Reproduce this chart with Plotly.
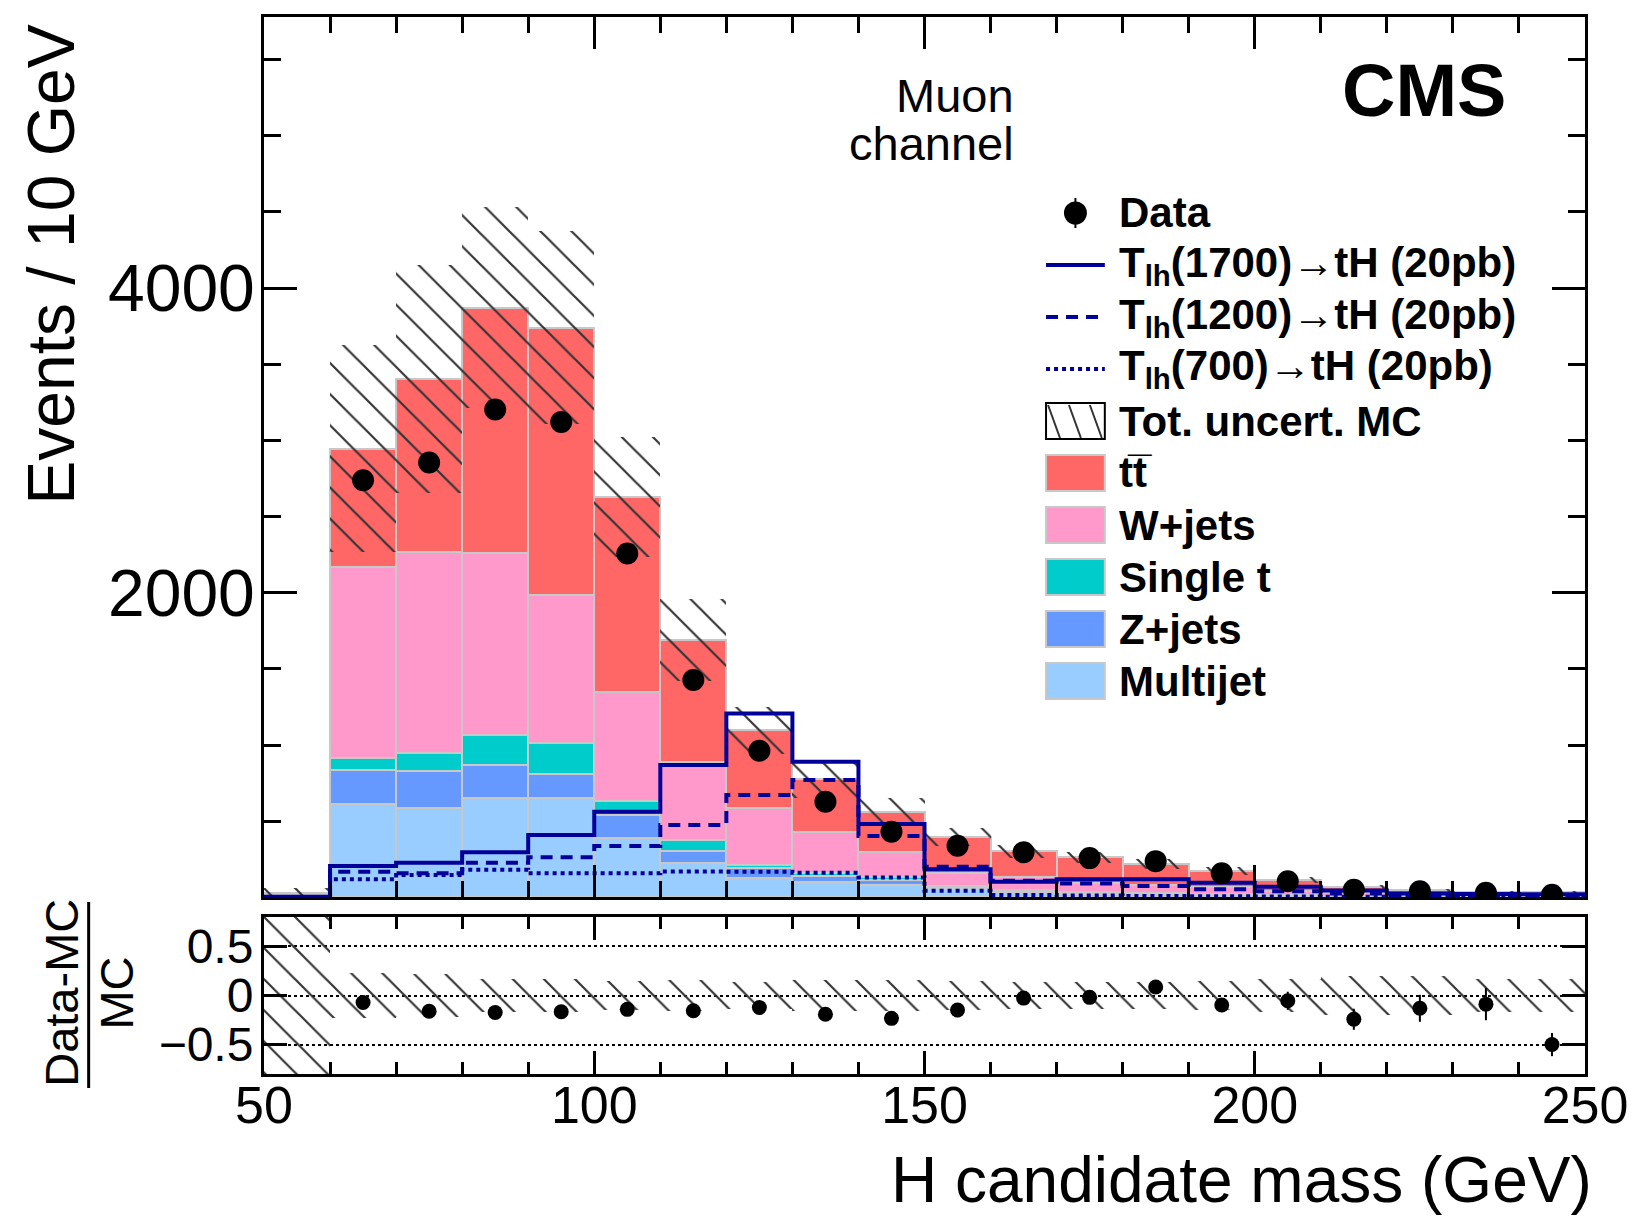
import numpy as np
import plotly.graph_objects as go

# ---------------- data ----------------
bin_edges = [50, 60, 70, 80, 90, 100, 110, 120, 130, 140, 150,
             160, 170, 180, 190, 200, 210, 220, 230, 240, 250]

multijet = [5, 611, 589, 654, 650, 390, 225, 125, 103, 81, 55, 35, 25, 20, 15, 10, 6, 4, 3, 2]
zjets = [2, 225, 240, 215, 158, 150, 80, 66, 37, 33, 15, 10, 7, 6, 5, 3, 2, 1, 1, 1]
singlet = [1, 81, 116, 197, 203, 93, 72, 21, 18, 22, 8, 5, 4, 3, 2, 2, 1, 1, 1, 1]
wjets = [10, 1253, 1323, 1194, 973, 717, 514, 372, 273, 164, 82, 86, 61, 52, 44, 30, 18, 12, 7, 6]
ttbar = [12, 777, 1134, 1612, 1757, 1279, 798, 514, 346, 262, 238, 168, 166, 138, 109, 67, 39, 28, 22, 26]

data = [None, 2739, 2855, 3203, 3121, 2258, 1427, 963, 628, 431, 339, 296, 258, 238, 158, 106, 50, 40, 31, 18]

rel_unc = [1.0, 0.23, 0.22, 0.17, 0.17, 0.15, 0.16, 0.14, 0.16, 0.16, 0.15, 0.14, 0.14, 0.14, 0.15, 0.17, 0.2, 0.2, 0.17, 0.17]

sig1700 = [5, 206, 228, 296, 409, 562, 869, 1208, 890, 482, 185, 103, 119, 119, 97, 70, 45, 25, 22, 20]
sig1200 = [0, 169, 158, 228, 263, 337, 475, 672, 770, 403, 201, 110, 92, 75, 53, 40, 25, 15, 12, 10]
sig700 = [0, 119, 147, 182, 158, 158, 170, 168, 162, 131, 44, 16, 12, 10, 8, 6, 5, 4, 3, 3]

legend_labels = ["Data",
                 "T<sub>lh</sub>(1700)\u2192tH (20pb)",
                 "T<sub>lh</sub>(1200)\u2192tH (20pb)",
                 "T<sub>lh</sub>(700)\u2192tH (20pb)",
                 "Tot. uncert. MC",
                 "tt\u0305",
                 "W+jets", "Single t", "Z+jets", "Multijet"]

# ---------------- layout geometry ----------------
W, H = 1640, 1217
L, R, T, B = 264, 1590, 17, 1074          # plot area in pixels
MAIN_BOTTOM, RATIO_TOP = 897.4, 917.0
FONT = "Liberation Sans, Arial, Helvetica, sans-serif"
SIGCOL = "#000099"


def px(x):
    return (x - L) / (R - L)


def py(y):
    return (B - y) / (B - T)


edges = np.array(bin_edges, float)
centers = (edges[:-1] + edges[1:]) / 2
widths = np.diff(edges)
n = len(centers)

fig = go.Figure()

components = [
    ("Multijet", multijet, "#99ccff"),
    ("Z+jets", zjets, "#6699ff"),
    ("Single t", singlet, "#00cccc"),
    ("W+jets", wjets, "#ff99cc"),
    ("ttbar", ttbar, "#ff6666"),
]

base = np.zeros(n)
for name, vals, col in components:
    v = np.array(vals, float)
    fig.add_trace(go.Bar(x=centers, y=v, base=base.copy(), width=widths,
                         marker=dict(color=col, line=dict(color="#c8c8c8", width=2)),
                         xaxis="x", yaxis="y", showlegend=False, name=name))
    base = base + v
total = base
unc = np.array(rel_unc) * total

# MC uncertainty hatch (main)
hatch = dict(shape="\\", size=22, solidity=0.1, fgcolor="#333333",
             bgcolor="rgba(0,0,0,0)", fillmode="replace")
fig.add_trace(go.Bar(x=centers, y=2 * unc, base=total - unc, width=widths,
                     marker=dict(color="rgba(0,0,0,0)", line=dict(width=0), pattern=hatch),
                     xaxis="x", yaxis="y", showlegend=False))

# signal step lines
for vals, dash in [(sig1700, "solid"), (sig1200, "12px,8px"), (sig700, "4px,4px")]:
    fig.add_trace(go.Scatter(x=edges, y=list(vals) + [vals[-1]], mode="lines",
                             line=dict(shape="hv", color=SIGCOL, width=4, dash=dash),
                             xaxis="x", yaxis="y", showlegend=False))

# data
d = np.array([np.nan if v is None else v for v in data], float)
fig.add_trace(go.Scatter(x=centers, y=d, mode="markers",
                         marker=dict(color="black", size=22),
                         error_y=dict(type="data", array=np.sqrt(d), color="black", thickness=2, width=0),
                         xaxis="x", yaxis="y", showlegend=False))

# ratio panel
ratio = (d - total) / total
ratio_err = np.sqrt(d) / total
fig.add_trace(go.Bar(x=centers, y=2 * np.array(rel_unc), base=-np.array(rel_unc), width=widths,
                     marker=dict(color="rgba(0,0,0,0)", line=dict(width=0), pattern=hatch),
                     xaxis="x2", yaxis="y2", showlegend=False))
fig.add_trace(go.Scatter(x=centers, y=ratio, mode="markers",
                         marker=dict(color="black", size=15),
                         error_y=dict(type="data", array=ratio_err, color="black", thickness=2, width=0),
                         xaxis="x2", yaxis="y2", showlegend=False))

# ---------------- axes ----------------
axcommon = dict(showline=True, linecolor="black", linewidth=3, mirror="allticks",
                ticks="inside", tickcolor="black", zeroline=False, showgrid=False)

fig.update_layout(
    width=W, height=H, autosize=False,
    margin=dict(l=L, r=W - R, t=T, b=H - B, pad=0),
    paper_bgcolor="white", plot_bgcolor="white",
    barmode="overlay", bargap=0,
    font=dict(family=FONT, color="black"),
    xaxis=dict(axcommon, domain=[0, 1], anchor="y", range=[50, 250], matches="x2",
               showticklabels=False, tickmode="linear", tick0=50, dtick=50, ticklen=32, tickwidth=3,
               minor=dict(ticks="inside", dtick=10, tick0=50, ticklen=16, tickwidth=2.5, tickcolor="black")),
    yaxis=dict(axcommon, domain=[py(MAIN_BOTTOM), 1], anchor="x", range=[0, 5780],
               tickmode="array", tickvals=[2000, 4000], ticktext=["2000", "4000"],
               ticklen=33, tickwidth=3, tickfont=dict(size=66, family=FONT), ticklabelstandoff=-7,
               minor=dict(ticks="inside", dtick=500, tick0=0, ticklen=17, tickwidth=2.5, tickcolor="black")),
    xaxis2=dict(axcommon, domain=[0, 1], anchor="y2", range=[50, 250],
                tickmode="linear", tick0=50, dtick=50, ticklen=23, tickwidth=3,
                tickfont=dict(size=52, family=FONT), ticklabelstandoff=-16,
                minor=dict(ticks="inside", dtick=10, tick0=50, ticklen=12, tickwidth=2.5, tickcolor="black")),
    yaxis2=dict(axcommon, domain=[0, py(RATIO_TOP)], anchor="x2", range=[-0.8, 0.8],
                tickmode="array", tickvals=[-0.5, 0, 0.5], ticktext=["\u22120.5", "0", "0.5"],
                ticklen=23, tickwidth=3, tickfont=dict(size=48, family=FONT), ticklabelstandoff=-2,
                showgrid=True, gridcolor="black", gridwidth=2, griddash="dot"),
)

# ---------------- texts ----------------
ann = []


def add_text(x, y, text, size, xanchor="center", angle=0):
    ann.append(dict(x=px(x), y=py(y), xref="paper", yref="paper", text=text, textangle=angle,
                    showarrow=False, xanchor=xanchor, yanchor="middle", borderpad=0,
                    font=dict(size=size, family=FONT, color="black")))


add_text(50, 264, "Events / 10 GeV", 66, angle=-90)
add_text(R + 8, 1180, "H candidate mass (GeV)", 64, xanchor="right")
add_text(1428, 90, "<b>CMS</b>", 74)
add_text(1018, 96, "Muon", 47, xanchor="right")
add_text(1018, 143, "channel", 47, xanchor="right")
add_text(60, 993, "Data-MC", 47, angle=-90)
add_text(115, 993, "MC", 47, angle=-90)

shapes = []
shapes.append(dict(type="line", xref="paper", yref="paper", x0=px(88), x1=px(88),
                   y0=py(902), y1=py(1088), line=dict(color="black", width=3)))

# ---------------- legend (manual) ----------------
LEG_X0, LEG_X1, LEG_TX = 1049, 1108, 1121
LEG_Y0, LEG_DY, BOX_H = 213, 52, 36
rows = [LEG_Y0 + i * LEG_DY for i in range(len(legend_labels))]
for lab, yc in zip(legend_labels, rows):
    add_text(LEG_TX, yc, "<b>" + lab + "</b>", 42, xanchor="left")

xm = (LEG_X0 + LEG_X1) / 2
# data marker
shapes.append(dict(type="line", xref="paper", yref="paper", x0=px(xm), x1=px(xm),
                   y0=py(rows[0] - 15), y1=py(rows[0] + 15), line=dict(color="black", width=2)))
shapes.append(dict(type="circle", xref="paper", yref="paper", x0=px(xm - 11.5), x1=px(xm + 11.5),
                   y0=py(rows[0] - 11.5), y1=py(rows[0] + 11.5), fillcolor="black",
                   line=dict(color="black", width=0)))
# signal lines
for yc, dash in zip(rows[1:4], ["solid", "12px,8px", "4px,4px"]):
    shapes.append(dict(type="line", xref="paper", yref="paper", x0=px(LEG_X0), x1=px(LEG_X1),
                       y0=py(yc), y1=py(yc), line=dict(color=SIGCOL, width=4, dash=dash)))
# hatch box
yc = rows[4]
shapes.append(dict(type="rect", xref="paper", yref="paper", x0=px(LEG_X0), x1=px(LEG_X1),
                   y0=py(yc + BOX_H / 2), y1=py(yc - BOX_H / 2), line=dict(color="black", width=2)))
for k in range(3):
    shapes.append(dict(type="line", xref="paper", yref="paper",
                       x0=px(LEG_X0 + 2 + 21 * k), x1=px(LEG_X0 + 14 + 21 * k),
                       y0=py(yc - BOX_H / 2 + 2), y1=py(yc + BOX_H / 2 - 1),
                       line=dict(color="#333333", width=2)))
# colour boxes
for (name, vals, col), yc in zip(components[::-1], rows[5:]):
    shapes.append(dict(type="rect", xref="paper", yref="paper", x0=px(LEG_X0), x1=px(LEG_X1),
                       y0=py(yc + BOX_H / 2), y1=py(yc - BOX_H / 2), fillcolor=col,
                       line=dict(color="#c8c8c8", width=2)))

fig.update_layout(annotations=ann, shapes=shapes)
fig.write_html("out.html")
